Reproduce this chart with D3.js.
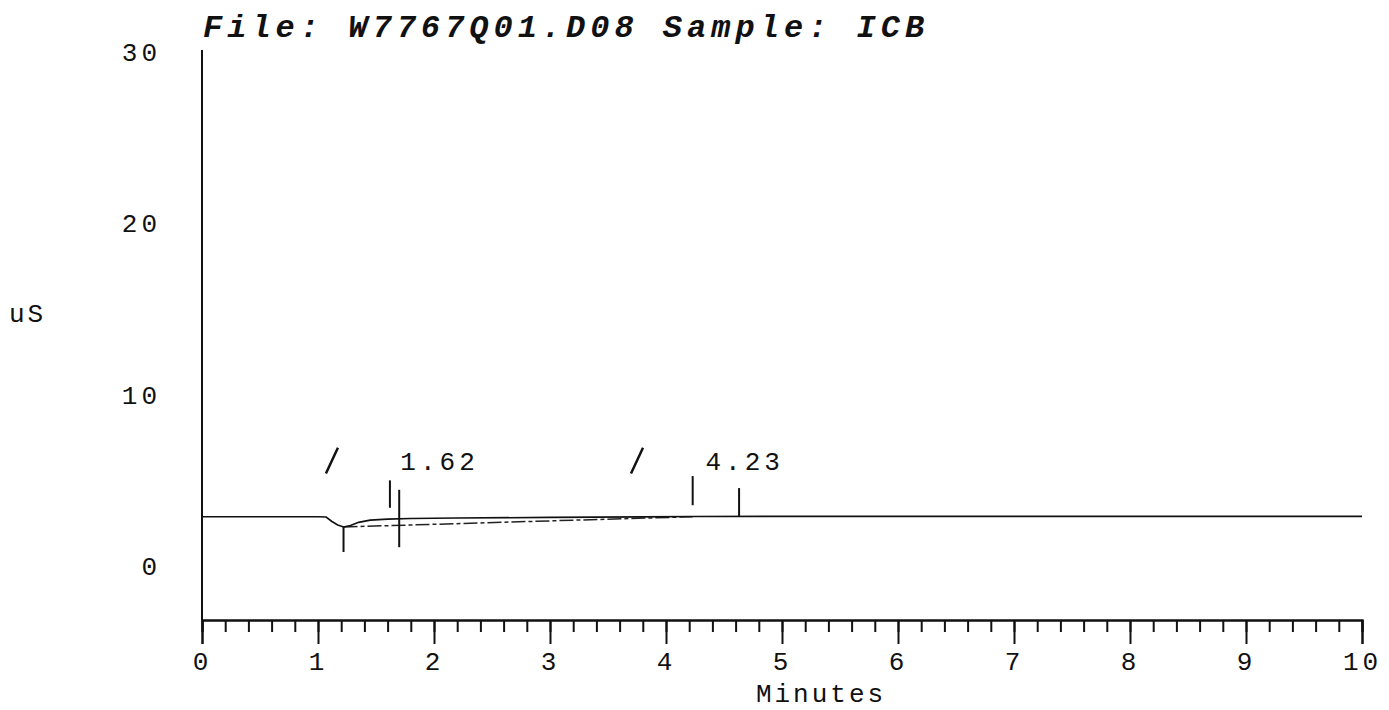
<!DOCTYPE html>
<html lang="en">
<head>
    <meta charset="UTF-8">
    <title>W7767Q01.D08 ICB</title>
    <script src="https://cdn.jsdelivr.net/npm/d3@7"></script>
    <style>
      body { margin: 0; background: #fff; }
      text { font-family: "Liberation Mono", "DejaVu Sans Mono", monospace; fill: #111; }
    </style>
</head>
<body>
    <script>
      // chromatogram trace (minutes, uS)
      const traceTime = [0, 1.0, 1.07, 1.12, 1.17, 1.22, 1.28, 1.35, 1.45, 1.6, 1.8, 2.2, 3.0, 3.8, 4.23, 5, 6, 7, 8, 9, 10];
      const traceUs   = [2.88, 2.88, 2.86, 2.6, 2.4, 2.28, 2.36, 2.55, 2.68, 2.74, 2.77, 2.8, 2.84, 2.87, 2.89, 2.9, 2.9, 2.9, 2.9, 2.9, 2.9];

      // integration baseline drawn under the first peak
      const baseTime = [1.22, 4.23];
      const baseUs   = [2.28, 2.88];

      // peak start/end markers
      const markTime   = [1.22, 1.62, 1.70, 4.23, 4.63];
      const markTop    = [2.3, 5.0, 4.45, 5.25, 4.55];
      const markBottom = [0.82, 3.4, 1.1, 3.55, 2.88];

      // retention time labels
      const peakLabels = ["1.62", "4.23"];
      const peakLabelTime = [1.71, 4.34];
      const slashTime = [1.12, 3.75];

      const yTicks = [0, 10, 20, 30];

      const w = 1389;
      const h = 710;

      const xScale = d3.scaleLinear()
                       .domain([0, 10])
                       .range([202, 1362]);

      const yScale = d3.scaleLinear()
                       .domain([-3.15, 30.12])
                       .range([620, 50]);

      const svg = d3.select("body")
                    .append("svg")
                    .attr("width", w)
                    .attr("height", h);

      // title
      svg.append("text")
         .attr("x", 203)
         .attr("y", 37)
         .attr("font-size", 32)
         .attr("font-weight", "bold")
         .attr("font-style", "italic")
         .attr("letter-spacing", 5)
         .text("File: W7767Q01.D08 Sample: ICB");

      // y axis: plain line with labels only
      svg.append("line")
         .attr("x1", xScale(0)).attr("x2", xScale(0))
         .attr("y1", yScale.range()[1]).attr("y2", yScale.range()[0])
         .attr("stroke", "#111").attr("stroke-width", 2);

      svg.selectAll(".ylab")
         .data(yTicks)
         .enter()
         .append("text")
         .attr("class", "ylab")
         .attr("x", 161)
         .attr("y", (d) => yScale(d) + 9)
         .attr("text-anchor", "end")
         .attr("font-size", 26)
         .attr("letter-spacing", 4)
         .text((d) => d);

      svg.append("text")
         .attr("x", 9)
         .attr("y", 322)
         .attr("font-size", 26)
         .attr("letter-spacing", 3)
         .text("uS");

      // x axis: minor ticks every 0.2 min, major every minute
      const minorAxis = d3.axisBottom(xScale)
                          .tickValues(d3.range(0, 51).map((i) => i / 5))
                          .tickSize(12)
                          .tickFormat("");

      const majorAxis = d3.axisBottom(xScale)
                          .tickValues(d3.range(0, 11))
                          .tickSize(24)
                          .tickPadding(8)
                          .tickFormat(d3.format("d"));

      svg.append("g")
         .attr("transform", `translate(0, ${yScale.range()[0]})`)
         .call(minorAxis);

      const gMajor = svg.append("g")
         .attr("transform", `translate(0, ${yScale.range()[0]})`)
         .call(majorAxis);

      svg.selectAll(".domain").attr("stroke", "#111").attr("stroke-width", 2);
      svg.selectAll(".tick line").attr("stroke", "#111").attr("stroke-width", 2);
      gMajor.selectAll(".tick text")
            .attr("font-size", 26)
            .attr("letter-spacing", 4)
            .attr("fill", "#111");

      svg.append("text")
         .attr("x", 821)
         .attr("y", 702)
         .attr("text-anchor", "middle")
         .attr("font-size", 26)
         .attr("letter-spacing", 3)
         .text("Minutes");

      const line = d3.line()
                     .x((d) => xScale(d[0]))
                     .y((d) => yScale(d[1]));

      // baseline first, then trace on top
      svg.append("path")
         .datum(d3.zip(baseTime, baseUs))
         .attr("fill", "none")
         .attr("stroke", "#222")
         .attr("stroke-width", 1.5)
         .attr("stroke-dasharray", "14 3 4 3")
         .attr("d", line);

      svg.append("path")
         .datum(d3.zip(traceTime, traceUs))
         .attr("fill", "none")
         .attr("stroke", "#111")
         .attr("stroke-width", 1.6)
         .attr("d", line);

      svg.selectAll(".mark")
         .data(d3.zip(markTime, markTop, markBottom))
         .enter()
         .append("line")
         .attr("class", "mark")
         .attr("x1", (d) => xScale(d[0]))
         .attr("x2", (d) => xScale(d[0]))
         .attr("y1", (d) => yScale(d[1]))
         .attr("y2", (d) => yScale(d[2]))
         .attr("stroke", "#111")
         .attr("stroke-width", 2);

      svg.selectAll(".plab")
         .data(d3.zip(peakLabelTime, peakLabels))
         .enter()
         .append("text")
         .attr("class", "plab")
         .attr("x", (d) => xScale(d[0]))
         .attr("y", yScale(5.6))
         .attr("font-size", 26)
         .attr("letter-spacing", 4)
         .text((d) => d[1]);

      svg.selectAll(".slash")
         .data(slashTime)
         .enter()
         .append("line")
         .attr("class", "slash")
         .attr("x1", (d) => xScale(d) - 6)
         .attr("x2", (d) => xScale(d) + 6)
         .attr("y1", yScale(5.4))
         .attr("y2", yScale(6.9))
         .attr("stroke", "#111")
         .attr("stroke-width", 2.5);
    </script>
</body>
</html>
